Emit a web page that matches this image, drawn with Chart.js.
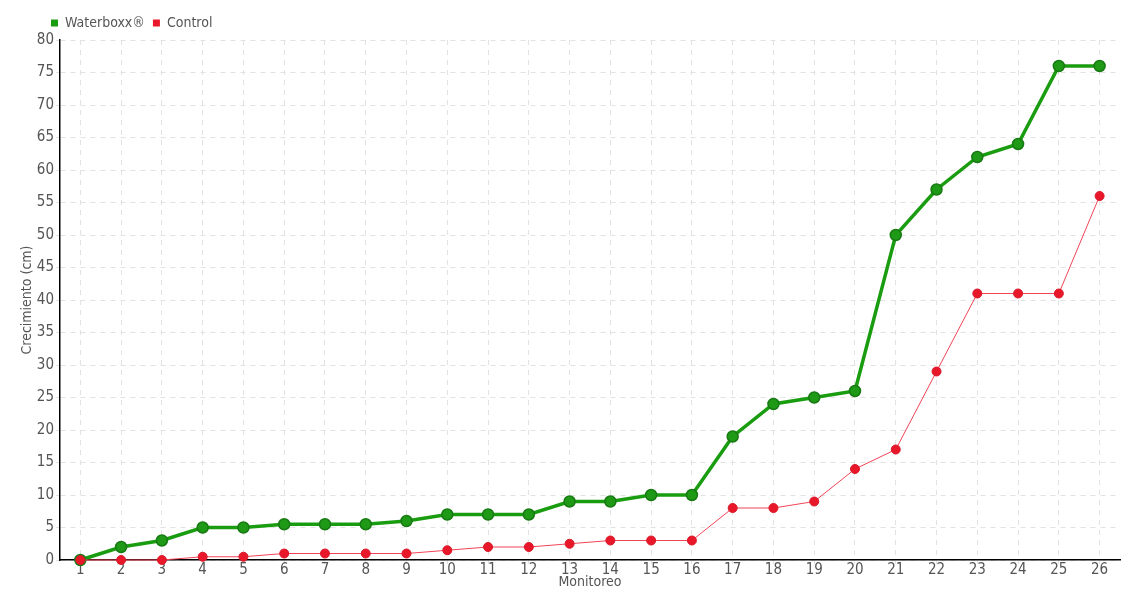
<!DOCTYPE html>
<html>
<head>
<meta charset="utf-8">
<script src="https://cdn.jsdelivr.net/npm/chart.js@4"></script>
<style>
  html, body { margin: 0; padding: 0; background: #fff; }
  #wrap { width: 1140px; height: 600px; }
</style>
</head>
<body>
<div id="wrap"><canvas id="chart"></canvas></div>
<script>
const monitoreo = ["1","2","3","4","5","6","7","8","9","10","11","12","13","14","15","16","17","18","19","20","21","22","23","24","25","26"];
const waterboxx = [0, 2, 3, 5, 5, 5.5, 5.5, 5.5, 6, 7, 7, 7, 9, 9, 10, 10, 19, 24, 25, 26, 50, 57, 62, 64, 76, 76];
const control = [0, 0, 0, 0.5, 0.5, 1, 1, 1, 1, 1.5, 2, 2, 2.5, 3, 3, 3, 8, 8, 9, 14, 17, 29, 41, 41, 41, 56];

const font = "'Liberation Sans Narrow', 'DejaVu Sans Condensed', sans-serif";
Chart.defaults.font.family = font;
Chart.defaults.color = "#555";

// nudge the legend to the right so it starts near the y axis
const legendShift = {
  id: "legendShift",
  afterLayout(chart) {
    chart.legend.left += 28;
    chart.legend.right += 28;
  }
};

new Chart(document.getElementById("chart"), {
  type: "line",
  data: {
    labels: monitoreo,
    datasets: [
      {
        label: "Waterboxx®",
        data: waterboxx,
        order: 1,
        clip: false,
        borderColor: "#1a9c10",
        backgroundColor: "#1a9c10",
        borderWidth: 3.5,
        pointRadius: 5.5,
        pointBorderWidth: 1.5,
        pointBorderColor: "#177a12",
        pointBackgroundColor: "#1f9a17",
        fill: false,
        tension: 0
      },
      {
        label: "Control",
        data: control,
        order: 0,
        clip: false,
        borderColor: "#f24456",
        backgroundColor: "#e8182a",
        borderWidth: 1,
        pointRadius: 4.5,
        pointBorderWidth: 1,
        pointBorderColor: "#d81828",
        pointBackgroundColor: "#e8182a",
        fill: false,
        tension: 0
      }
    ]
  },
  plugins: [legendShift],
  options: {
    responsive: true,
    maintainAspectRatio: false,
    animation: false,
    layout: { padding: { left: 15, right: 20, top: 8, bottom: 0 } },
    plugins: {
      legend: {
        position: "top",
        align: "start",
        labels: {
          boxWidth: 7,
          boxHeight: 7,
          padding: 8,
          font: { size: 14 },
          color: "#555",
          generateLabels(chart) {
            return chart.data.datasets.map((ds, i) => ({
              text: ds.label,
              fillStyle: ds.backgroundColor,
              strokeStyle: ds.backgroundColor,
              lineWidth: 0,
              fontColor: "#555",
              hidden: !chart.isDatasetVisible(i),
              datasetIndex: i
            }));
          }
        }
      },
      tooltip: { enabled: false }
    },
    scales: {
      x: {
        offset: true,
        afterFit(scale) { scale.height = 40; },
        title: { display: true, text: "Monitoreo", font: { size: 14 }, color: "#555", padding: { top: 0, bottom: 9 } },
        grid: { color: "#e2e2e2", tickLength: 4, offset: false },
        border: { color: "#000", width: 1.5, dash: [5, 5] },
        ticks: { font: { size: 15 }, color: "#555", padding: -3, maxRotation: 0, autoSkip: false }
      },
      y: {
        min: 0,
        max: 80,
        title: { display: true, text: "Crecimiento (cm)", font: { size: 14 }, color: "#555", padding: { bottom: -1 } },
        grid: { color: "#e2e2e2", tickLength: 4 },
        border: { color: "#000", width: 1.5, dash: [5, 5] },
        ticks: { stepSize: 5, font: { size: 15 }, color: "#555", padding: 2 }
      }
    }
  }
});
</script>
</body>
</html>
